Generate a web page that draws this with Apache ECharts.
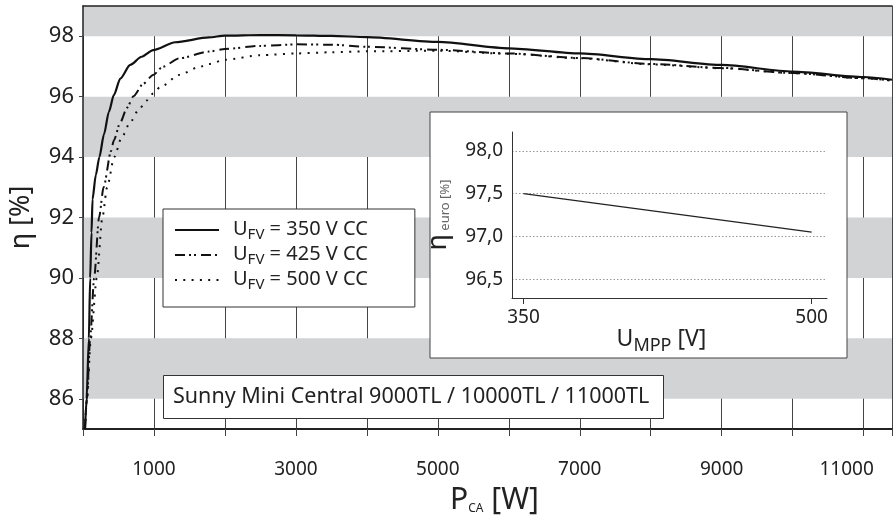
<!DOCTYPE html>
<html>
<head>
<meta charset="utf-8">
<script src="https://cdn.jsdelivr.net/npm/echarts@6/dist/echarts.min.js"></script>
<style>
    html, body { margin: 0; padding: 0; background: #fff; }
    #chart { width: 895px; height: 520px; }
</style>
</head>
<body>
<div id="chart"></div>
<script>
    // Wirkungsgrad ueber Leistung, je MPP-Spannung
    var power350 = [28, 51, 83, 101, 120, 134, 180, 231, 295, 365, 434, 526, 665, 826, 988, 1300, 1773, 2000, 2500, 3000, 3500, 4000, 5000, 6000, 7000, 8000, 9000, 10000, 11000, 11400];
    var eta350 = [85.0, 86.0, 88.0, 90.0, 91.5, 92.6, 93.4, 94.0, 94.75, 95.5, 96.05, 96.6, 97.05, 97.32, 97.54, 97.8, 97.96, 98.02, 98.04, 98.03, 98.01, 97.97, 97.81, 97.6, 97.43, 97.24, 97.05, 96.83, 96.65, 96.56];

    var power425 = [28, 55, 101, 157, 226, 290, 395, 434, 526, 619, 711, 850, 988, 1126, 1357, 1773, 2000, 2500, 3000, 3500, 4000, 5000, 6000, 7000, 8000, 9000, 10000, 11000, 11400];
    var eta425 = [85.0, 86.0, 88.0, 90.0, 92.0, 93.0, 94.2, 94.55, 95.15, 95.63, 96.01, 96.43, 96.72, 96.99, 97.27, 97.49, 97.58, 97.68, 97.73, 97.72, 97.65, 97.55, 97.43, 97.28, 97.08, 96.95, 96.78, 96.61, 96.53];

    var power500 = [28, 55, 111, 194, 273, 340, 440, 545, 665, 780, 896, 988, 1080, 1357, 1634, 1773, 2000, 2500, 3000, 3500, 4000, 5000, 6000, 7000, 8000, 9000, 10000, 11000, 11400];
    var eta500 = [85.0, 86.0, 88.0, 90.0, 92.0, 93.0, 94.0, 94.65, 95.15, 95.55, 95.87, 96.1, 96.3, 96.72, 96.98, 97.08, 97.22, 97.37, 97.43, 97.47, 97.5, 97.52, 97.42, 97.27, 97.07, 96.94, 96.78, 96.61, 96.53];

    var etaTicks = [86, 88, 90, 92, 94, 96, 98];
    var powerTicks = [1000, 3000, 5000, 7000, 9000, 11000];
    var grayBands = [[86, 88], [90, 92], [94, 96], [98, 99]];

    // Europ. Wirkungsgrad ueber U_MPP (kleines Diagramm)
    var uMpp = [350, 500];
    var etaEuro = [97.5, 97.05];
    var euroTicks = [96.5, 97.0, 97.5, 98.0];

    var font = 'Noto Sans';
    var ink = '#222';

    function zip(xs, ys) {
        return xs.map(function (x, i) { return [x, ys[i]]; });
    }

    var myChart = echarts.init(document.getElementById('chart'), null, {renderer: 'canvas'});

    var curveStyle = {
        '350': {type: 'solid', width: 2.2},
        '425': {type: [10, 4, 2, 3, 2, 5], width: 2},
        '500': {type: [2, 6.3], width: 2}
    };

    function curve(name, xs, ys) {
        return {
            name: name,
            type: 'line',
            data: zip(xs, ys),
            symbol: 'none',
            smooth: 0.25,
            smoothMonotone: 'x',
            silent: true,
            z: 3,
            itemStyle: {color: '#111'},
            lineStyle: {color: '#111', width: curveStyle[name].width, type: curveStyle[name].type}
        };
    }

    var option = {
        animation: false,
        backgroundColor: '#fff',
        textStyle: {fontFamily: font},
        title: {
            text: 'Sunny Mini Central 9000TL / 10000TL / 11000TL',
            left: 163,
            top: 375,
            padding: [10, 14, 10, 10],
            backgroundColor: '#fff',
            borderColor: '#333',
            borderWidth: 1,
            textStyle: {fontFamily: font, fontSize: 21.5, fontWeight: 'normal', color: ink, lineHeight: 24}
        },
        legend: {
            data: ['350', '425', '500'],
            orient: 'vertical',
            left: 163,
            top: 209,
            padding: [10, 47, 15, 11],
            itemWidth: 44,
            itemHeight: 12,
            itemGap: 2,
            backgroundColor: '#fff',
            borderColor: '#333',
            borderWidth: 1,
            selectedMode: false,
            itemStyle: {opacity: 0},
            formatter: function (name) {
                return '{u0|U}{s|FV}{u| = ' + name + ' V CC}';
            },
            textStyle: {
                fontFamily: font,
                color: ink,
                rich: {
                    u0: {fontSize: 20, fontFamily: font, color: ink, padding: [0, 0, 0, 9], verticalAlign: 'top', lineHeight: 22},
                    u: {fontSize: 20, fontFamily: font, color: ink, verticalAlign: 'top', lineHeight: 22},
                    s: {fontSize: 15, fontFamily: font, color: ink, verticalAlign: 'top', lineHeight: 16, padding: [8, 0, 0, 0]}
                }
            }
        },
        graphic: [{
            // Rahmen des Einsatzdiagramms
            type: 'rect',
            shape: {x: 430, y: 112, width: 417, height: 246},
            style: {fill: '#fff', stroke: '#444', lineWidth: 1},
            z: 5,
            silent: true
        }],
        grid: [
            {left: 82, top: 6, right: -10, bottom: 88},
            {left: 512, top: 132, width: 315, height: 166}
        ],
        xAxis: [
            {
                gridIndex: 0,
                type: 'value',
                min: 0,
                max: 11400,
                interval: 1000,
                z: 1,
                axisLine: {lineStyle: {color: ink, width: 2}},
                axisTick: {show: true, length: 7, lineStyle: {color: '#444', width: 1}},
                splitLine: {show: true, lineStyle: {color: '#444', width: 1}},
                axisLabel: {
                    margin: 31,
                    fontFamily: font,
                    fontSize: 19,
                    color: ink,
                    formatter: function (v) {
                        if (powerTicks.indexOf(v) < 0) return '';
                        return v === 11000 ? '{r|' + v + '}' : String(v);
                    },
                    rich: {r: {fontFamily: font, fontSize: 19, color: ink, padding: [0, 34, 0, 0]}}
                },
                name: '{p|P}{b|CA}{a| [W]}',
                nameLocation: 'middle',
                nameGap: 52,
                nameTextStyle: {
                    rich: {
                        p: {fontFamily: font, fontSize: 30, color: ink, verticalAlign: 'bottom', lineHeight: 34, padding: [0, 0, 0, 14]},
                        a: {fontFamily: font, fontSize: 30, color: ink, verticalAlign: 'bottom', lineHeight: 34},
                        b: {fontFamily: font, fontSize: 12, color: ink, verticalAlign: 'bottom', lineHeight: 12}
                    }
                }
            },
            {
                gridIndex: 0,
                type: 'value',
                position: 'top',
                min: 0,
                max: 11400,
                z: 1,
                axisLine: {lineStyle: {color: ink, width: 1.5}},
                axisTick: {show: false},
                axisLabel: {show: false},
                splitLine: {show: false}
            },
            {
                gridIndex: 1,
                type: 'value',
                min: 344,
                max: 508,
                z: 6,
                axisLine: {lineStyle: {color: '#333', width: 1}},
                axisTick: {show: true, length: 6, customValues: uMpp, lineStyle: {color: '#333'}},
                axisLabel: {customValues: uMpp, margin: 10, fontFamily: font, fontSize: 19, color: ink},
                splitLine: {show: false},
                name: '{a|U}{b|MPP}{v| [V]}',
                nameLocation: 'middle',
                nameGap: 26,
                nameTextStyle: {
                    rich: {
                        a: {fontFamily: font, fontSize: 23, color: ink, verticalAlign: 'top', lineHeight: 26},
                        v: {fontFamily: font, fontSize: 23, color: ink, verticalAlign: 'top', lineHeight: 26, padding: [0, 16, 0, 0]},
                        b: {fontFamily: font, fontSize: 18, color: ink, verticalAlign: 'top', lineHeight: 20, padding: [9, 0, 0, 0]}
                    }
                }
            }
        ],
        yAxis: [
            {
                gridIndex: 0,
                type: 'value',
                min: 85,
                max: 99,
                z: 1,
                axisLine: {show: true, lineStyle: {color: ink, width: 1.5}},
                axisTick: {show: true, length: 4, customValues: etaTicks, lineStyle: {color: '#444'}},
                axisLabel: {customValues: etaTicks, margin: 9, fontFamily: font, fontSize: 22, color: ink},
                splitLine: {show: false},
                name: '{a|η [%]}',
                nameLocation: 'middle',
                nameGap: 48,
                nameTextStyle: {
                    rich: {a: {fontFamily: font, fontSize: 27, color: ink}}
                }
            },
            {
                gridIndex: 1,
                type: 'value',
                min: 96.28,
                max: 98.22,
                z: 6,
                axisLine: {show: true, lineStyle: {color: '#333', width: 1}},
                axisTick: {show: false},
                axisLabel: {
                    customValues: euroTicks,
                    margin: 9,
                    fontFamily: font,
                    fontSize: 19,
                    color: ink,
                    formatter: function (v) { return v.toFixed(1).replace('.', ','); }
                },
                splitLine: {show: false},
                name: '{e|η}{s| euro [%]}',
                nameLocation: 'middle',
                nameGap: 60,
                nameTextStyle: {
                    rich: {
                        e: {fontFamily: font, fontSize: 27, color: ink, verticalAlign: 'bottom', lineHeight: 30},
                        s: {fontFamily: font, fontSize: 13, color: '#666', verticalAlign: 'bottom', lineHeight: 12}
                    }
                }
            }
        ],
        series: [
            {
                // graue Baender hinter dem Raster
                name: 'bands',
                type: 'line',
                data: [],
                z: 0,
                silent: true,
                markArea: {
                    silent: true,
                    label: {show: false},
                    itemStyle: {color: '#d1d3d4'},
                    data: grayBands.map(function (b) { return [{yAxis: b[0]}, {yAxis: b[1]}]; })
                }
            },
            curve('350', power350, eta350),
            curve('425', power425, eta425),
            curve('500', power500, eta500),
            {
                name: 'euro',
                type: 'line',
                xAxisIndex: 2,
                yAxisIndex: 1,
                data: zip(uMpp, etaEuro),
                symbol: 'none',
                silent: true,
                z: 7,
                lineStyle: {color: '#222', width: 1.3},
                markLine: {
                    silent: true,
                    symbol: 'none',
                    label: {show: false},
                    lineStyle: {color: '#999', width: 1, type: [1.5, 2]},
                    data: euroTicks.map(function (v) { return {yAxis: v}; })
                }
            }
        ]
    };

    myChart.setOption(option);
</script>
</body>
</html>
